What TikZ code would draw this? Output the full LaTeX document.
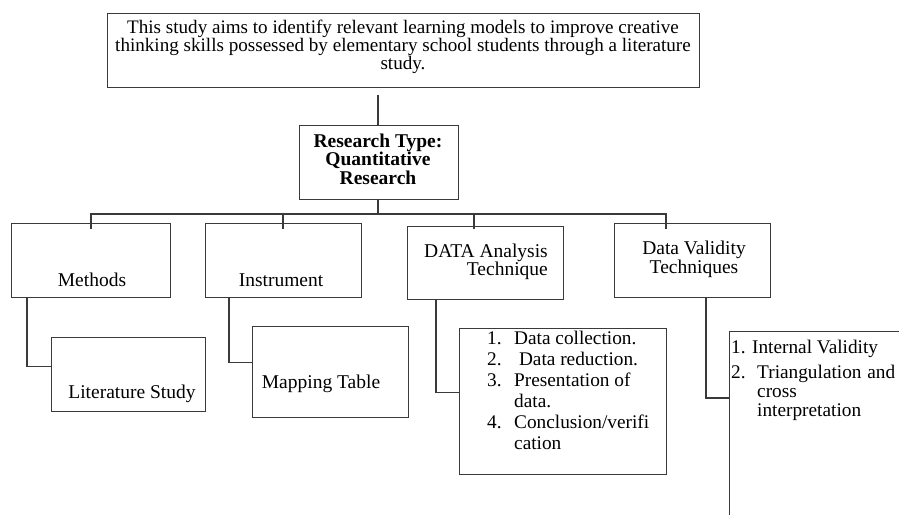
\documentclass[tikz,border=0pt]{standalone}
\usepackage{fontspec}
\setmainfont{Liberation Serif}
\definecolor{lc}{HTML}{3A3A3A}
\begin{document}
\begin{tikzpicture}[x=1pt,y=-1pt,
  box/.style={draw=lc, line width=1.2pt, inner sep=0pt, anchor=north west},
  conn/.style={draw=lc, line width=1.2pt},
  txt/.style={inner sep=0pt, font=\fontsize{19.5}{18.5}\selectfont, text=black},
  lst/.style={inner sep=0pt, font=\fontsize{19.3}{21}\selectfont, text=black, align=left, anchor=north west}]
\useasboundingbox[fill=white] (0,0) rectangle (899,514);
% boxes
\node[box, minimum width=592pt, minimum height=74pt] (top) at (107,13) {};
\node[box, minimum width=159pt, minimum height=74pt] (rt) at (299,125) {};
\node[box, minimum width=159pt, minimum height=74pt] (methods) at (11,223) {};
\node[box, minimum width=156pt, minimum height=74pt] (instr) at (205,223) {};
\node[box, minimum width=156pt, minimum height=73pt] (data) at (407,226) {};
\node[box, minimum width=156pt, minimum height=74pt] (valid) at (614,223) {};
\node[box, minimum width=154pt, minimum height=74pt] (lit) at (51,337) {};
\node[box, minimum width=156pt, minimum height=91pt] (map) at (252,326) {};
\node[box, minimum width=207pt, minimum height=146pt] (dlist) at (459,328) {};
\node[box, minimum width=230pt, minimum height=230pt] (vlist) at (729,331) {};
% texts
\node[txt, align=center, font=\fontsize{19.1}{18}\selectfont] (topt) at (403,47) {This study aims to identify relevant learning models to improve creative\\thinking skills possessed by elementary school students through a literature\\study.};
\node[txt, align=center, font=\fontsize{19.5}{18.5}\selectfont\bfseries] (rtt) at (378,159) {Research Type:\\Quantitative\\Research};
\node[txt] (methodst) at (92,280) {Methods};
\node[txt] (instrt) at (281,280) {Instrument};
\node[txt, align=right, anchor=east] (datat) at (548,262) {DATA Analysis\\Technique};
\node[txt, align=center] (validt) at (694,259.5) {Data Validity\\Techniques};
\node[txt] (litt) at (132,394) {Literature Study};
\node[txt] (mapt) at (321,384) {Mapping Table};
\node[lst] (dlistt) at (487,331) {\makebox[27pt][l]{1.}Data collection.\\
\makebox[27pt][l]{2.} Data reduction.\\
\makebox[27pt][l]{3.}Presentation of\\
\hspace*{27pt}data.\\
\makebox[27pt][l]{4.}Conclusion/verifi\\
\hspace*{27pt}cation};
\node[lst, font=\fontsize{19.3}{19}\selectfont] (vlistt) at (731,340) {1. Internal Validity\\[6pt]
\makebox[26pt][l]{2.}\makebox[138pt][l]{Triangulation\hfill and}\\
\hspace*{26pt}cross\\
\hspace*{26pt}interpretation};
% connectors
\coordinate (tb) at (378,95);
\draw[conn] (tb) -- (tb |- rt.north);
\coordinate (bus) at (378,214);
\coordinate (d1) at (91,229);
\coordinate (d2) at (283,229);
\coordinate (d3) at (474,229);
\coordinate (d4) at (666,229);
\draw[conn] (rt.south -| bus) -- (bus);
\draw[conn] (d1) -- (d1 |- bus) -- (d4 |- bus) -- (d4);
\draw[conn] (d2 |- bus) -- (d2);
\draw[conn] (d3 |- bus) -- (d3);
\draw[conn] ([xshift=16pt]methods.south west) |- ([yshift=8pt]lit.west);
\draw[conn] ([xshift=24pt]instr.south west) |- ([yshift=9.5pt]map.west);
\draw[conn] ([xshift=29pt]data.south west) |- ([yshift=9pt]dlist.west);
\draw[conn] ([xshift=92pt]valid.south west) |- ([yshift=-67pt]vlist.north west);
\end{tikzpicture}
\end{document}
